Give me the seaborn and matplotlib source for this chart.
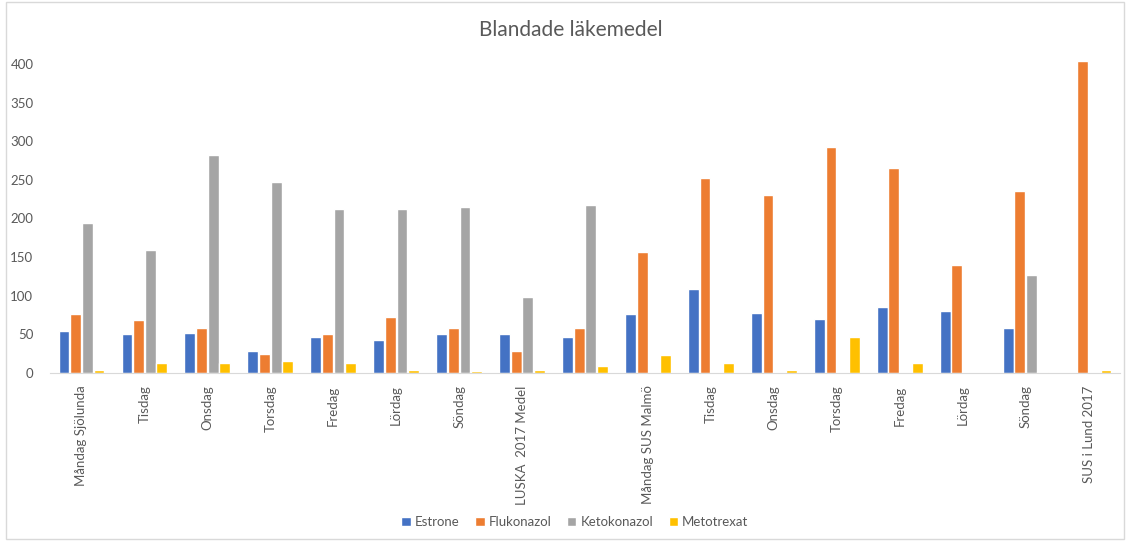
import numpy as np
import pandas as pd
import seaborn as sns
from matplotlib import pyplot as plt
from matplotlib.patches import Rectangle

categories = ["Måndag Sjölunda", "Tisdag", "Onsdag", "Torsdag", "Fredag", "Lördag", "Söndag",
              "LUSKA  2017 Medel", "", "Måndag SUS Malmö", "Tisdag", "Onsdag", "Torsdag",
              "Fredag", "Lördag", "Söndag", "SUS i Lund 2017"]
estrone = [54, 50, 52, 29, 47, 43, 50, 50, 47, 77, 109, 78, 70, 86, 80, 58, 0]
flukonazol = [77, 68, 58, 25, 50, 72, 58, 29, 58, 157, 253, 230, 293, 265, 140, 236, 404]
ketokonazol = [194, 159, 282, 247, 212, 212, 215, 99, 218, 0, 0, 0, 0, 0, 0, 127, 0]
metotrexat = [4, 13, 13, 15, 13, 4, 3, 4, 9, 23, 13, 4, 46, 13, 0, 1, 4]
series = ["Estrone", "Flukonazol", "Ketokonazol", "Metotrexat"]
colors = ["#4472C4", "#ED7D31", "#A5A5A5", "#FFC000"]

df = pd.DataFrame({
    "pos": range(len(categories)),
    "Estrone": estrone,
    "Flukonazol": flukonazol,
    "Ketokonazol": ketokonazol,
    "Metotrexat": metotrexat,
})
long = df.melt(id_vars="pos", var_name="serie", value_name="varde")

sns.set_style("white")
plt.rcParams["font.family"] = ["Lato", "DejaVu Sans"]
txt = "#595959"

fig = plt.figure(figsize=(11.27, 5.41), dpi=100)
ax = fig.add_axes([50 / 1127, 1 - 373 / 541, 1070 / 1127, 323 / 541])
sns.barplot(data=long, x="pos", y="varde", hue="serie", hue_order=series,
            palette=colors, width=0.74, gap=0.07, ax=ax, saturation=1)

ax.set_ylim(0, 418)
ax.set_xlim(-0.5, len(categories) - 0.5)
ax.set_yticks(np.arange(0, 401, 50))
ax.set_xticks(range(len(categories)))
ax.set_xticklabels(categories, rotation=90, fontsize=9.5, color=txt)
ax.tick_params(axis="y", labelsize=9.5, colors=txt, length=0, pad=12)
ax.tick_params(axis="x", length=0, pad=9)
ax.set_xlabel("")
ax.set_ylabel("")
for s in ["top", "right", "left"]:
    ax.spines[s].set_visible(False)
ax.spines["bottom"].set_color("#d9d9d9")

handles, labels = ax.get_legend_handles_labels()
ax.get_legend().remove()
fig.legend(handles, labels, loc="center", bbox_to_anchor=(575 / 1127, 1 - 522 / 541), ncol=4,
           frameon=False, fontsize=9.5, labelcolor=txt, handlelength=0.7, handleheight=0.7,
           handletextpad=0.3, columnspacing=1.2)

fig.text(571 / 1127, 1 - 30 / 541, "Blandade läkemedel", ha="center", va="center",
         fontsize=15, color=txt)
fig.patches.append(Rectangle((6 / 1127, 0.004), 1118 / 1127, 0.992, transform=fig.transFigure,
                             fill=False, edgecolor="#d9d9d9", linewidth=1))

plt.savefig("out.png", dpi=100)
